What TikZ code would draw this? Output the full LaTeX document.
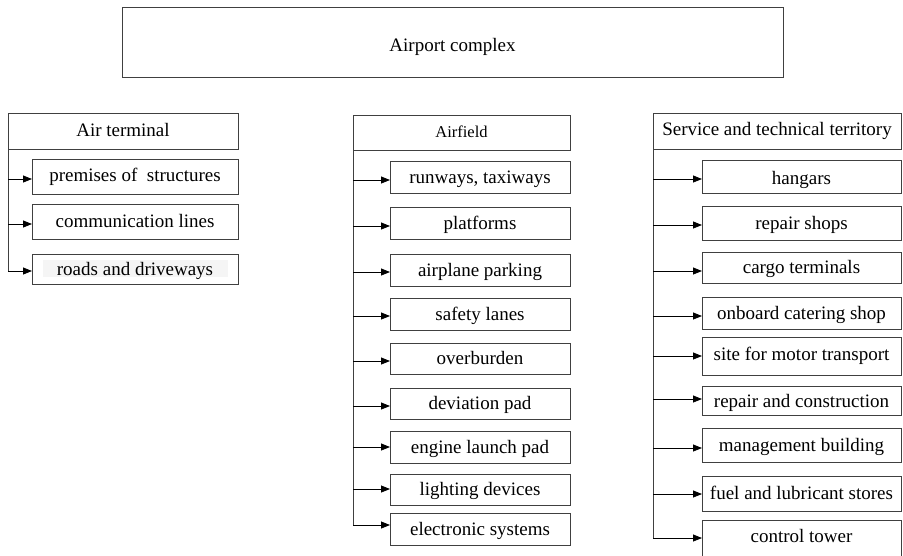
\documentclass[tikz,border=0pt]{standalone}
\usepackage{fontspec}
\setmainfont{Liberation Serif}
\usetikzlibrary{arrows.meta}
\begin{document}
\begin{tikzpicture}[x=1pt,y=-1pt,
  box/.style={draw=black!75, line width=0.9pt, inner sep=0pt, outer sep=0pt, font=\fontsize{19}{23}\selectfont, text=black, text height=16pt, text depth=4pt},
  atsub/.style={box, minimum width=206pt},
  afsub/.style={box, minimum width=180pt},
  stsub/.style={box, minimum width=199pt},
  trunk/.style={draw=black!75, line width=0.9pt},
  arr/.style={draw=black, line width=0.8pt, -{Triangle[length=9pt,width=7pt]}}
]
\useasboundingbox (0,0) rectangle (903,555);
\clip (0,0) rectangle (903,555);

% top
\node[box, minimum width=661pt, minimum height=70pt, text height=23.4pt] (top) at (452.5,42) {Airport complex};

% Air terminal
\node[box, minimum width=230pt, minimum height=36pt, text height=15.4pt] (at) at (123,131) {Air terminal};
\node[atsub, minimum height=35pt, text height=14.4pt] (a1) at (135,176.5) {premises of~ structures};
\node[atsub, minimum height=35pt] (a2) at (135,221.5) {communication lines};
\node[atsub, minimum height=30pt] (a3) at (135,269) {};
\node[fill=black!4, inner sep=0pt, minimum width=185pt, minimum height=17pt] (a3bg) at (135.5,268.5) {};
\node[font=\fontsize{19}{23}\selectfont, inner sep=0pt, text height=17.4pt, text depth=4pt] (a3t) at (a3) {roads and driveways};
\coordinate (ta1) at (8,179);
\coordinate (ta2) at (8,224);
\coordinate (ta3) at (8,271);
\path[trunk] (at.south west) -- (ta3);
\path[arr] (ta1) -- (ta1 -| a1.west);
\path[arr] (ta2) -- (ta2 -| a2.west);
\path[arr] (ta3) -- (ta3 -| a3.west);

% Airfield
\node[box, minimum width=217pt, minimum height=35pt, font=\fontsize{16.5}{20}\selectfont, text height=13.6pt, text depth=4pt] (af) at (461.5,132.5) {Airfield};
\node[afsub, minimum height=32pt] (f1) at (480,177) {runways, taxiways};
\node[afsub, minimum height=32pt] (f2) at (480,223) {platforms};
\node[afsub, minimum height=32pt] (f3) at (480,270) {airplane parking};
\node[afsub, minimum height=32pt] (f4) at (480,314) {safety lanes};
\node[afsub, minimum height=31pt] (f5) at (480,358.5) {overburden};
\node[afsub, minimum height=31pt] (f6) at (480,403.5) {deviation pad};
\node[afsub, minimum height=32pt] (f7) at (480,447) {engine launch pad};
\node[afsub, minimum height=31pt] (f8) at (480,489.5) {lighting devices};
\node[afsub, minimum height=32pt] (f9) at (480,529) {electronic systems};
\coordinate (tf1) at (353,180);
\coordinate (tf2) at (353,226);
\coordinate (tf3) at (353,272);
\coordinate (tf4) at (353,316);
\coordinate (tf5) at (353,361);
\coordinate (tf6) at (353,406);
\coordinate (tf7) at (353,447);
\coordinate (tf8) at (353,489);
\coordinate (tf9) at (353,525);
\path[trunk] (af.south west) -- (tf9);
\foreach \i in {1,...,9}{\path[arr] (tf\i) -- (tf\i -| f\i.west);}

% Service and technical territory
\node[box, minimum width=248pt, minimum height=36pt, text height=12pt] (st) at (777,131) {Service and technical territory};
\node[stsub, minimum height=33pt, text height=19pt] (s1) at (801.5,176.5) {hangars};
\node[stsub, minimum height=34pt] (s2) at (801.5,223) {repair shops};
\node[stsub, minimum height=31pt] (s3) at (801.5,267.5) {cargo terminals};
\node[stsub, minimum height=32pt] (s4) at (801.5,313) {onboard catering shop};
\node[stsub, minimum height=38pt, text height=12pt] (s5) at (801.5,356) {site for motor transport};
\node[stsub, minimum height=29pt, text height=17.6pt] (s6) at (801.5,400.5) {repair and construction};
\node[stsub, minimum height=34pt] (s7) at (801.5,445) {management building};
\node[stsub, minimum height=35pt] (s8) at (801.5,493.5) {fuel and lubricant stores};
\node[stsub, minimum height=37pt, text height=12.4pt] (s9) at (801.5,538.5) {control tower};
\coordinate (ts1) at (653,179);
\coordinate (ts2) at (653,225);
\coordinate (ts3) at (653,271);
\coordinate (ts4) at (653,316);
\coordinate (ts5) at (653,356);
\coordinate (ts6) at (653,399);
\coordinate (ts7) at (653,448);
\coordinate (ts8) at (653,494);
\coordinate (ts9) at (653,538);
\path[trunk] (st.south west) -- (ts9);
\foreach \i in {1,...,9}{\path[arr] (ts\i) -- (ts\i -| s\i.west);}
\end{tikzpicture}
\end{document}
